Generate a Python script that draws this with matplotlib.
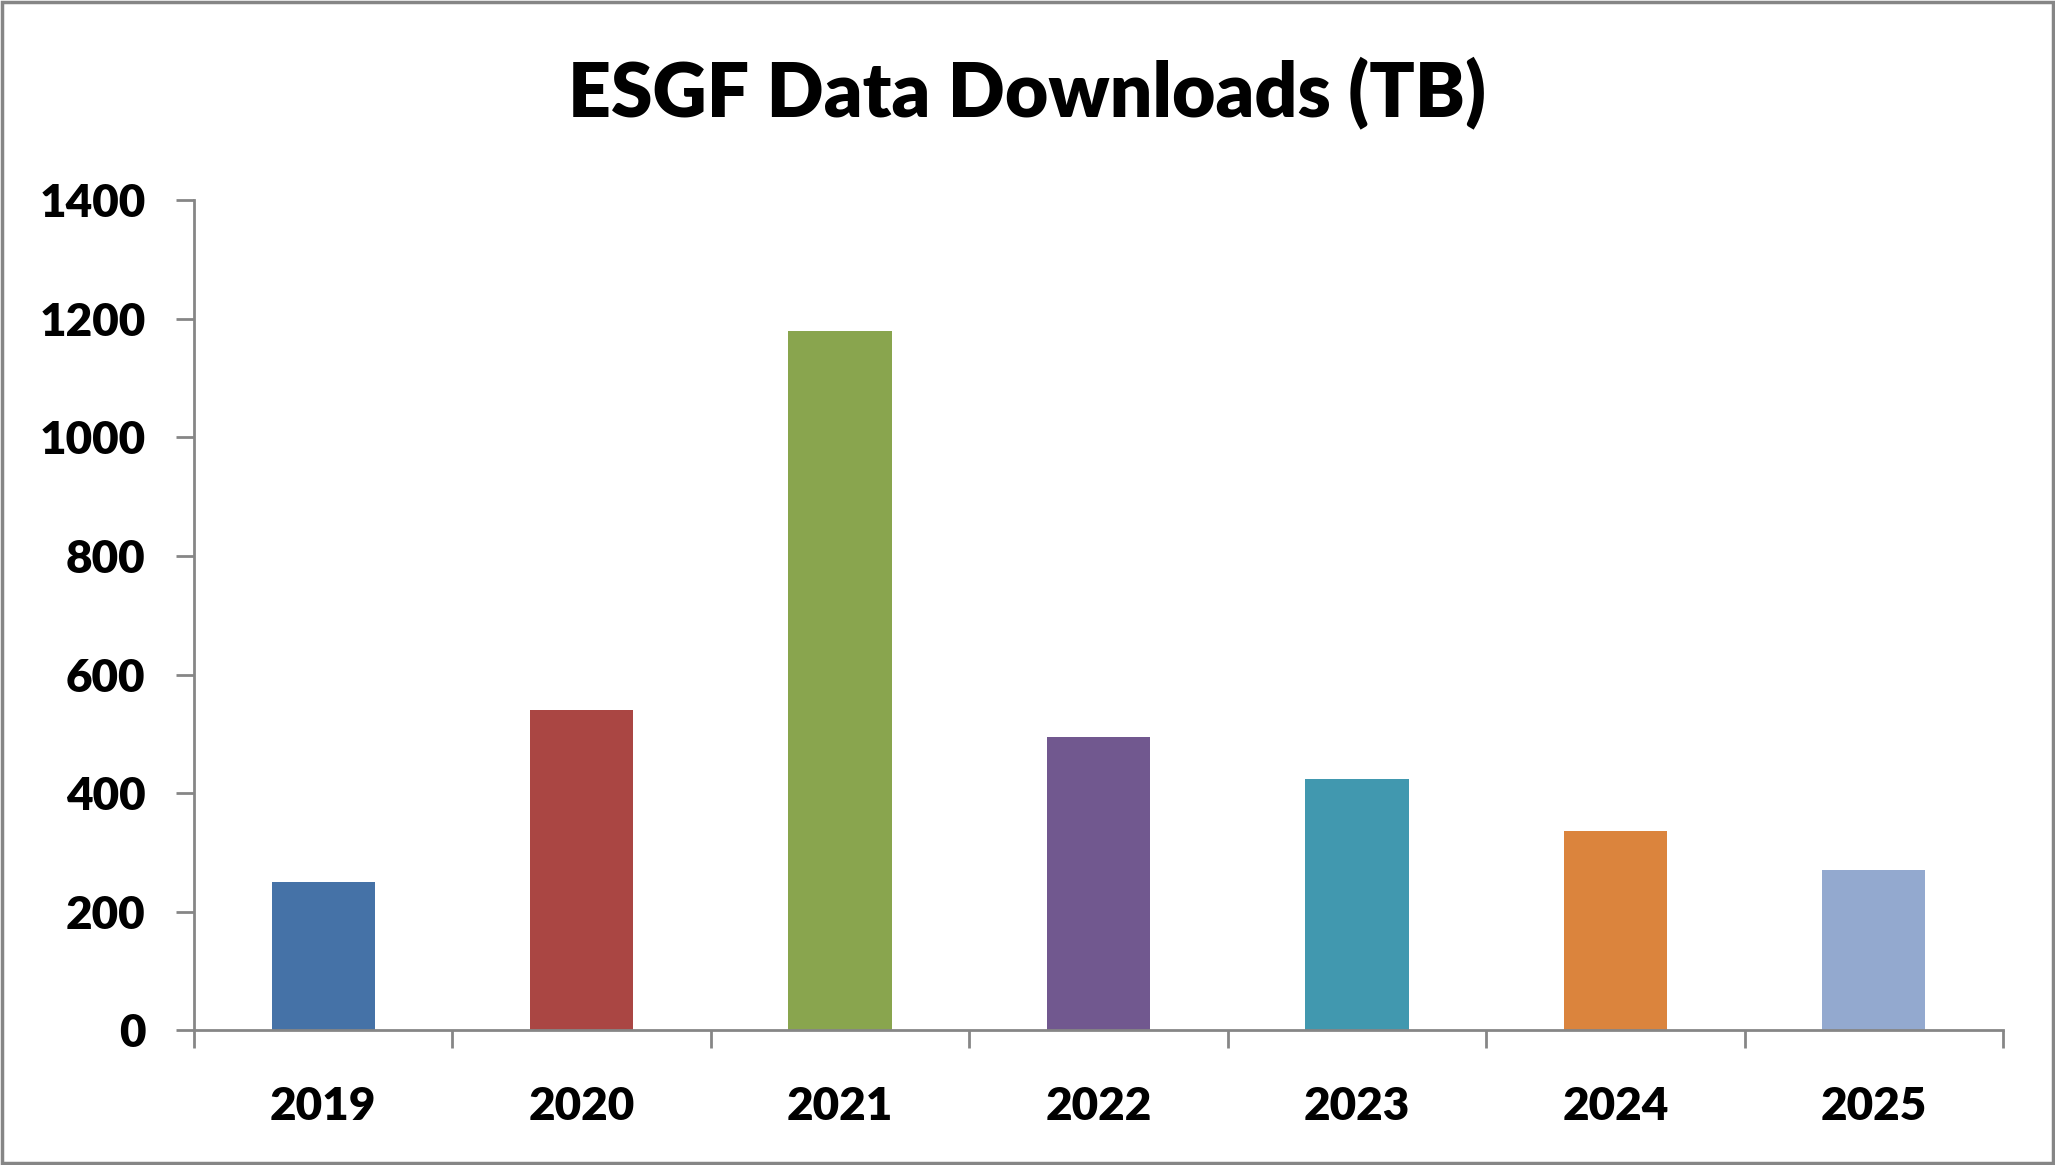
import matplotlib
matplotlib.use("Agg")
import matplotlib.pyplot as plt
from matplotlib.patches import Rectangle
import numpy as np

years = ["2019", "2020", "2021", "2022", "2023", "2024", "2025"]
downloads_tb = [250, 540, 1180, 495, 424, 337, 271]
colors = ["#4572A7", "#AA4643", "#89A54E", "#71588F", "#4198AF", "#DB843D", "#93A9CF"]
y_ticks = [0, 200, 400, 600, 800, 1000, 1200, 1400]
title = "ESGF Data Downloads (TB)"

plt.rcParams['font.family'] = ['Lato', 'DejaVu Sans']
plt.rcParams['font.weight'] = 'bold'

fig = plt.figure(figsize=(20.55, 11.65), dpi=100)
ax = fig.add_axes([0.0944, 0.1155, 0.8803, 0.7128])

x = np.arange(len(years))
ax.bar(x, downloads_tb, width=0.4, color=colors, zorder=2)

axis_color = "#868686"
ax.set_xlim(-0.5, len(years) - 0.5)
ax.set_ylim(0, 1400)
ax.set_yticks(y_ticks)
ax.set_yticklabels([str(v) for v in y_ticks], fontsize=33, fontweight='heavy')
ax.set_xticks(x)
ax.set_xticklabels(years, fontsize=33, fontweight='heavy')
ax.set_xticks(np.arange(-0.5, len(years)), minor=True)

ax.tick_params(axis='x', which='major', length=0, pad=40)
ax.tick_params(axis='x', which='minor', length=13, width=2, color=axis_color, direction='out')
ax.tick_params(axis='y', which='major', length=13, width=2, color=axis_color, direction='out', pad=22)

for s in ['top', 'right']:
    ax.spines[s].set_visible(False)
for s in ['left', 'bottom']:
    ax.spines[s].set_color(axis_color)
    ax.spines[s].set_linewidth(2)

fig.text(0.5, 0.9, title, ha='center', va='baseline', fontsize=54, fontweight='heavy')

fig.patches.append(Rectangle((0.001, 0.002), 0.998, 0.996, transform=fig.transFigure,
                             fill=False, edgecolor=axis_color, linewidth=2.5))

fig.savefig("out.png", dpi=100, facecolor='white')
